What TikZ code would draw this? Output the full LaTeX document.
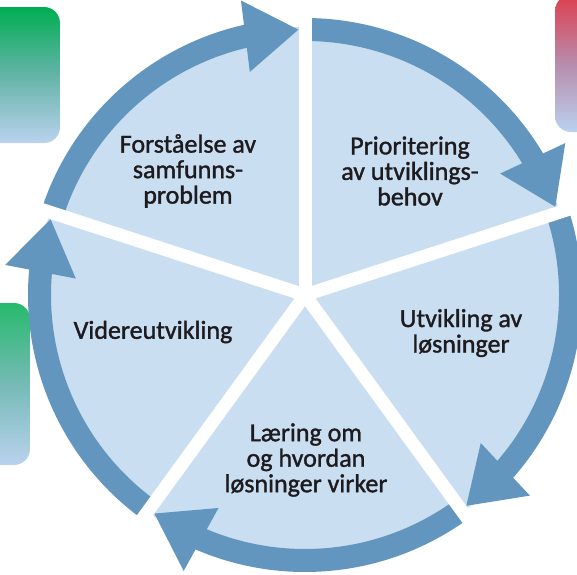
\documentclass[tikz,border=0pt]{standalone}
\usepackage{fontspec}
\setmainfont{Carlito}
\newfontfamily\phasefont{Carlito}[FakeBold=1.3]
\usetikzlibrary{arrows.meta,bending,positioning}

\definecolor{pieblue}{RGB}{201,222,241}
\definecolor{ringblue}{RGB}{98,150,190}
\definecolor{txtdark}{RGB}{30,27,30}
\definecolor{tabgreen}{RGB}{0,174,82}
\definecolor{tabteal}{RGB}{100,180,168}
\definecolor{tabred}{RGB}{222,62,78}
\definecolor{tabmauve}{RGB}{184,140,172}
\definecolor{tablight}{RGB}{186,210,238}

\tikzset{
  ring/.style={ringblue,line width=23pt,-{Triangle[length=54pt,width=68pt]}},
  gap/.style={white,line width=13pt},
  phase/.style={align=center,text=txtdark,inner sep=0pt,font=\phasefont\fontsize{26}{25.5}\selectfont},
  tab/.style={rounded corners=16pt}
}

\begin{document}
\begin{tikzpicture}[x=1pt,y=1pt]
      \useasboundingbox (-305,-279) rectangle (272,295);
      % tabs at the edges
      \shade [tab,top color=tabgreen,bottom color=tablight,middle color=tabteal] (-330,288) rectangle (-245,152);
      \shade [tab,top color=tabred,bottom color=tablight,middle color=tabmauve] (250,300) rectangle (300,163);
      \shade [tab,top color=tabgreen!85!white,bottom color=tablight,middle color=tabteal!80!tablight] (-330,-8) rectangle (-275,-170);
      \coordinate (c) at (0,0);
      \fill [pieblue] (c) circle (268);
      \coordinate (a1) at (90:265.5);
      \coordinate (a2) at (18:265.5);
      \coordinate (a3) at (-54:265.5);
      \coordinate (a4) at (-126:265.5);
      \coordinate (a5) at (162:265.5);
      \draw [ring] (a1) arc[start angle=90,end angle=19.3,radius=265.5];
      \draw [ring] (a2) arc[start angle=18,end angle=-52.7,radius=265.5];
      \draw [ring] (a3) arc[start angle=-54,end angle=-124.7,radius=265.5];
      \draw [ring] (a4) arc[start angle=-126,end angle=-196.7,radius=265.5];
      \draw [ring] (a5) arc[start angle=162,end angle=91.3,radius=265.5];
      % white gaps between the sectors
      \draw [gap] (c) -- (90:290);
      \draw [gap] (c) -- (18:290);
      \draw [gap] (c) -- (-54:290);
      \draw [gap] (c) -- (-126:290);
      \draw [gap] (c) -- (162:290);
      \node [phase] (forst) at (-117,124) {Forståelse av\\samfunns-\\problem};
      \node [phase] (prio) at (105,124) {Prioritering\\av utviklings-\\behov};
      \node [phase] (utv) at (156,-38) {Utvikling av\\løsninger};
      \node [phase] (laer) at (1,-165) {Læring om\\og hvordan\\løsninger virker};
      \node [phase] (vid) at (-152,-37) {Videreutvikling};
\end{tikzpicture}
\end{document}
